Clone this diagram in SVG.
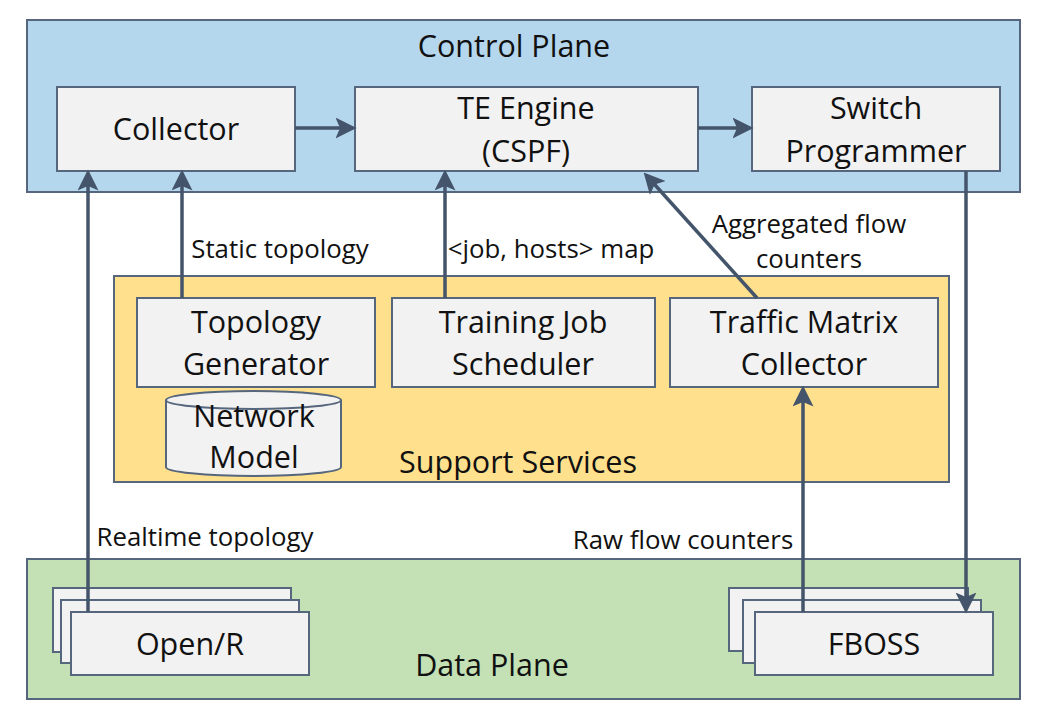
<svg xmlns="http://www.w3.org/2000/svg" width="1040" height="720" viewBox="0 0 1040 720">
<style>
text{font-family:"Open Sans","Liberation Sans",sans-serif;fill:#111;text-anchor:middle}
.big{font-size:30.5px}
.lbl{font-size:25.8px}
.box{fill:#f2f2f2;stroke:#56677d;stroke-width:2}
.conn{stroke:#44546a;stroke-width:3.5;fill:none;marker-end:url(#ah)}
</style>
<defs>
<marker id="ah" markerWidth="6" markerHeight="6" refX="5" refY="3" orient="auto" markerUnits="strokeWidth">
<path d="M0,0 L6,3 L0,6 L1.3,3 Z" fill="#44546a"/>
</marker>
</defs>
<rect width="1040" height="720" fill="#ffffff"/>
<g id="control-plane">
<rect x="27" y="20" width="993" height="172" fill="#b5d7ed" stroke="#56677d" stroke-width="2"/>
<text class="big" x="514" y="57">Control Plane</text>
</g>
<g id="support-services">
<rect x="114" y="276" width="835" height="206" fill="#ffe08c" stroke="#56677d" stroke-width="2"/>
<text class="big" x="518" y="473">Support Services</text>
</g>
<g id="data-plane">
<rect x="27" y="559" width="993" height="140" fill="#c3e1b5" stroke="#56677d" stroke-width="2"/>
<text class="big" x="492" y="676">Data Plane</text>
</g>
<g id="collector">
<rect class="box" x="57" y="87" width="238" height="84"/>
<text class="big" x="176" y="140">Collector</text>
</g>
<g id="te-engine">
<rect class="box" x="355" y="87" width="343" height="84"/>
<text class="big" x="526" y="119">TE Engine</text>
<text class="big" x="526" y="162">(CSPF)</text>
</g>
<g id="switch-programmer">
<rect class="box" x="752" y="87" width="248" height="84"/>
<text class="big" x="876" y="119">Switch</text>
<text class="big" x="876" y="162">Programmer</text>
</g>
<g id="topology-generator">
<rect class="box" x="137" y="298" width="238" height="89"/>
<text class="big" x="256" y="333">Topology</text>
<text class="big" x="256" y="375">Generator</text>
</g>
<g id="training-job-scheduler">
<rect class="box" x="392" y="298" width="263" height="89"/>
<text class="big" x="523" y="333">Training Job</text>
<text class="big" x="523" y="375">Scheduler</text>
</g>
<g id="traffic-matrix-collector">
<rect class="box" x="670" y="298" width="268" height="89"/>
<text class="big" x="804" y="333">Traffic Matrix</text>
<text class="big" x="804" y="375">Collector</text>
</g>
<g id="network-model">
<path d="M166,400 L166,467 A87.5,9 0 0 0 341,467 L341,400" fill="#f2f2f2" stroke="#56677d" stroke-width="2"/>
<ellipse cx="253.5" cy="400" rx="87.5" ry="9" fill="#f2f2f2" stroke="#56677d" stroke-width="2"/>
<text class="big" x="254" y="427">Network</text>
<text class="big" x="254" y="468">Model</text>
</g>
<g id="open-r">
<rect class="box" x="53" y="588" width="238" height="64"/>
<rect class="box" x="61" y="600" width="238" height="63"/>
<rect class="box" x="71" y="612" width="238" height="63"/>
<text class="big" x="190" y="655">Open/R</text>
</g>
<g id="fboss">
<rect class="box" x="729" y="588" width="239" height="63"/>
<rect class="box" x="743" y="600" width="238" height="63"/>
<rect class="box" x="755" y="612" width="238" height="63"/>
<text class="big" x="874" y="655">FBOSS</text>
</g>
<g id="connectors">
<line class="conn" x1="295" y1="128" x2="353" y2="128"/>
<line class="conn" x1="698" y1="128" x2="750" y2="128"/>
<line class="conn" x1="88" y1="612" x2="88" y2="173"/>
<line class="conn" x1="182" y1="298" x2="182" y2="173"/>
<line class="conn" x1="445" y1="298" x2="445" y2="173"/>
<line class="conn" x1="757" y1="298" x2="646" y2="175"/>
<line class="conn" x1="803" y1="612" x2="803" y2="389"/>
<line class="conn" x1="966" y1="171" x2="966" y2="610"/>
<text class="lbl" x="280" y="258">Static topology</text>
<text class="lbl" x="551" y="258">&lt;job, hosts&gt; map</text>
<text class="lbl" x="809" y="233">Aggregated flow</text>
<text class="lbl" x="809" y="268">counters</text>
<text class="lbl" x="205" y="546">Realtime topology</text>
<text class="lbl" x="683" y="549">Raw flow counters</text>
</g>
</svg>
